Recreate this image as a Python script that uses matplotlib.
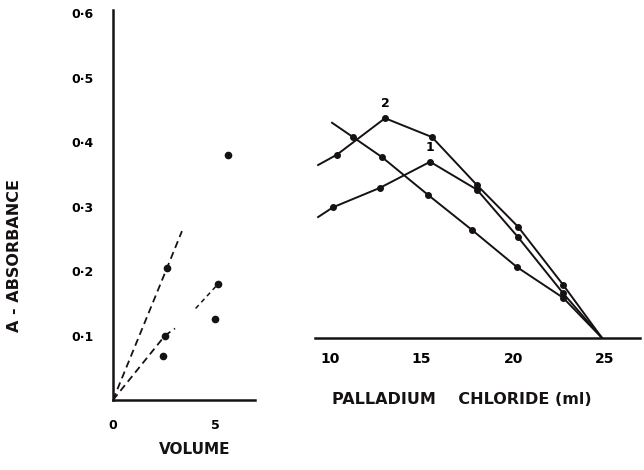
import matplotlib.pyplot as plt

# left panel: absorbance against volume
vol_a = [0, 2.65, 3.38]
abs_a = [0, 0.205, 0.262]
vol_b = [0, 2.55, 3.04]
abs_b = [0, 0.100, 0.111]
vol_c = [4.05, 5.15]
abs_c = [0.142, 0.180]
vol_pts = [2.45, 5.0, 5.64]
abs_pts = [0.069, 0.126, 0.380]
left_yticks = [0.1, 0.2, 0.3, 0.4, 0.5, 0.6]
left_ylabels = ["0·1", "0·2", "0·3", "0·4", "0·5", "0·6"]

# right panel: absorbance against palladium chloride (ml)
pd_x1 = [9.35, 10.16, 12.73, 15.46, 18.02, 20.26, 22.71, 24.84]
pd_y1 = [0.186, 0.201, 0.231, 0.271, 0.228, 0.155, 0.069, 0.0]
pd_x2 = [9.35, 10.38, 13.0, 15.56, 18.02, 20.26, 22.71, 24.84]
pd_y2 = [0.266, 0.282, 0.338, 0.309, 0.235, 0.171, 0.082, 0.0]
pd_x3 = [10.11, 11.25, 12.84, 15.35, 17.75, 20.2, 22.71, 24.84]
pd_y3 = [0.331, 0.309, 0.278, 0.220, 0.166, 0.109, 0.062, 0.0]
right_xticks = [10, 15, 20, 25]

ink = "#161214"

fig = plt.figure(figsize=(6.44, 4.70), dpi=100)

ax1 = fig.add_axes([113 / 644, 70 / 470, 142 / 644, 390 / 470])
ax1.plot(vol_a, abs_a, color=ink, lw=1.3, ls=(0, (4, 2.5)), marker="o", ms=4.5, markevery=[1])
ax1.plot(vol_b, abs_b, color=ink, lw=1.3, ls=(0, (4, 2.5)), marker="o", ms=4.5, markevery=[1])
ax1.plot(vol_c, abs_c, color=ink, lw=1.1, ls=(0, (3, 2.5)), marker="o", ms=4.5, markevery=[1])
ax1.plot(vol_pts, abs_pts, "o", color=ink, ms=4.5, ls="none")
ax1.set_xlim(0, 6.96)
ax1.set_ylim(0, 0.605)
ax1.set_xticks([0, 5])
ax1.set_xticklabels(["0", "5"], fontsize=9, fontweight="bold")
ax1.set_yticks(left_yticks)
ax1.set_yticklabels(left_ylabels, fontsize=9, fontweight="bold")
ax1.tick_params(length=0, pad=14)
for side in ["top", "right"]:
    ax1.spines[side].set_visible(False)
for side in ["left", "bottom"]:
    ax1.spines[side].set_linewidth(1.8)
    ax1.spines[side].set_color(ink)
ax1.patch.set_alpha(0)

ax2 = fig.add_axes([315 / 644, 132 / 470, 325 / 644, 238 / 470])
for xs, ys in [(pd_x1, pd_y1), (pd_x2, pd_y2), (pd_x3, pd_y3)]:
    ax2.plot(xs, ys, color=ink, lw=1.4, marker="o", ms=4,
             markevery=list(range(1, len(xs) - 1)))
ax2.annotate("1", (pd_x1[3], pd_y1[3]), xytext=(0, 8), textcoords="offset points",
             ha="center", fontsize=9, fontweight="bold")
ax2.annotate("2", (pd_x2[2], pd_y2[2]), xytext=(0, 8), textcoords="offset points",
             ha="center", fontsize=9, fontweight="bold")
ax2.set_xlim(9.18, 26.91)
ax2.set_ylim(0, 0.366)
ax2.set_xticks(right_xticks)
ax2.set_xticklabels([str(t) for t in right_xticks], fontsize=10, fontweight="bold")
ax2.set_yticks([])
ax2.tick_params(length=0, pad=10)
for side in ["top", "right", "left"]:
    ax2.spines[side].set_visible(False)
ax2.spines["bottom"].set_linewidth(1.8)
ax2.spines["bottom"].set_color(ink)
ax2.patch.set_alpha(0)

fig.text(15 / 644, 1 - 255 / 470, "A - ABSORBANCE", rotation=90, ha="center", va="center",
         fontsize=11.5, fontweight="bold", color=ink)
fig.text(195 / 644, 1 - 450 / 470, "VOLUME", ha="center", va="center",
         fontsize=11, fontweight="bold", color=ink)
fig.text(462 / 644, 1 - 400 / 470, "PALLADIUM    CHLORIDE (ml)", ha="center", va="center",
         fontsize=11.5, fontweight="bold", color=ink)

fig.savefig("out.png", dpi=100)
